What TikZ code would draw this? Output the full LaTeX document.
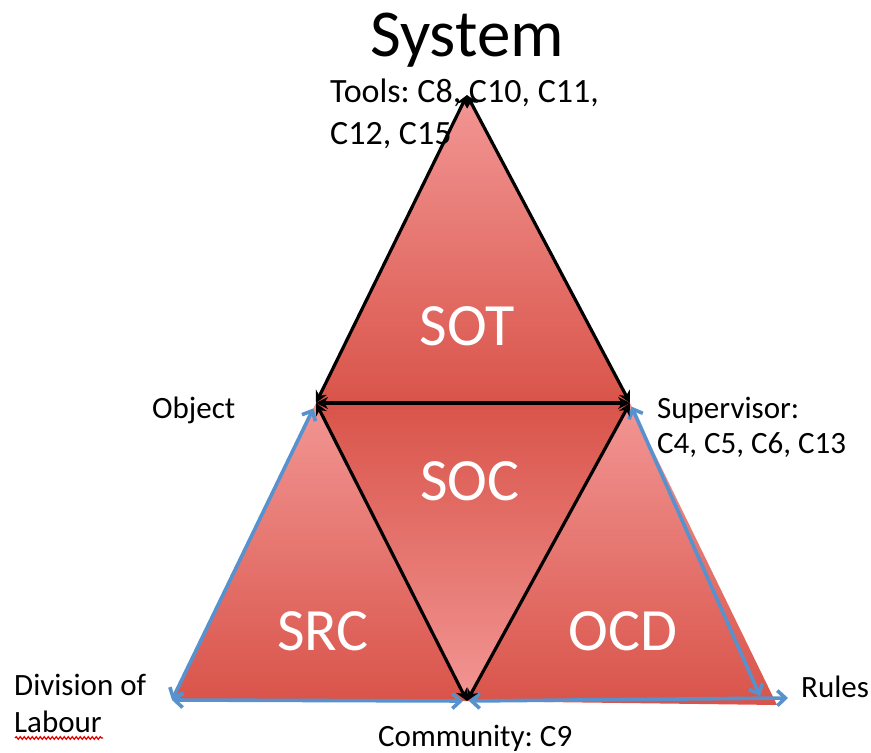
\documentclass[tikz,border=0pt]{standalone}
\usepackage{fontspec}
\setmainfont{Carlito}
\frenchspacing
\usetikzlibrary{arrows.meta,decorations.pathmorphing}
\definecolor{lightred}{RGB}{242,150,148}
\definecolor{darkred}{RGB}{217,84,74}
\definecolor{arrowblue}{RGB}{88,146,206}
\begin{document}
\frenchspacing
\begin{tikzpicture}[x=1pt,y=-1pt,
  blk/.style={draw=black,line width=3.2pt,{Stealth[length=12pt,width=12pt]}-{Stealth[length=12pt,width=12pt]}},
  blu/.style={draw=arrowblue,line width=3.6pt,{Straight Barb[length=8pt,width=15pt]}-{Straight Barb[length=8pt,width=15pt]}},
  lbl/.style={font=\fontsize{31}{38}\selectfont,anchor=base west,inner sep=0pt},
  big/.style={font=\fontsize{60}{70}\selectfont,text=white,anchor=base,inner sep=0pt}]
\useasboundingbox (0,0) rectangle (871,753);
\coordinate (T) at (467,95);
\coordinate (O) at (316,403);
\coordinate (S) at (630,403);
\coordinate (C) at (467,701);
\coordinate (D) at (172,700);
\coordinate (Rc) at (777,705);
\coordinate (R) at (788,698);
\coordinate (Rb) at (760,696);
% fills
\shade[top color=lightred,bottom color=darkred] (T) -- (O) -- (S) -- cycle;
\shade[top color=darkred,bottom color=lightred] (O) -- (S) -- (C) -- cycle;
\shade[top color=lightred,bottom color=darkred] (O) -- (D) -- (C) -- cycle;
\shade[top color=lightred,bottom color=darkred] (S) -- (C) -- (Rc) -- cycle;
% blue connectors
\draw[blu,shorten >=6pt] (D) -- (O);
\draw[blu,shorten >=4pt] (D) -- (C);
\draw[blu,shorten <=2pt] (C) -- (R);
\draw[blu,shorten <=4pt] (S) -- (Rb);
% black connectors
\draw[blk] (T) -- (O);
\draw[blk] (T) -- (S);
\draw[blk] (O) -- (S);
\draw[blk] (O) -- (C);
\draw[blk] (S) -- (C);
% texts
\node[font=\fontsize{67}{80}\selectfont,anchor=base,inner sep=0pt] (sys) at (467,56) {System};
\node[lbl,font=\fontsize{34}{41}\selectfont] (tools1) at (330,102) {Tools: C8, C10, C11,};
\node[lbl,font=\fontsize{34}{41}\selectfont] (tools2) at (330,144) {C12, C15};
\node[lbl] (obj) at (152,418) {Object};
\node[lbl] (sup1) at (657,418) {Supervisor:};
\node[lbl] (sup2) at (657,453) {C4, C5, C6, C13};
\node[lbl] (div1) at (14,695) {Division of};
\node[lbl] (div2) at (14,732) {Labour};
\draw[red!85!black,line width=1.2pt,decorate,decoration={snake,amplitude=1.3pt,segment length=4pt}] (div2.base west) ++(1,6) -- ++(88,0);
\node[lbl] (rules) at (801,697) {Rules};
\node[lbl] (comm) at (378,746) {Community: C9};
\node[big] (sot) at (467,345) {SOT};
\node[big] (soc) at (470,500) {SOC};
\node[big] (src) at (323,650) {SRC};
\node[big] (ocd) at (623,650) {OCD};
\end{tikzpicture}
\end{document}
